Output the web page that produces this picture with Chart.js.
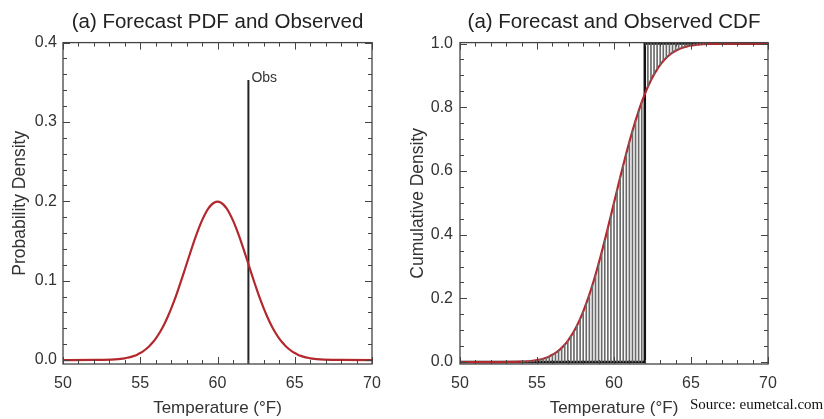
<!DOCTYPE html>
<html>
<head>
<meta charset="utf-8">
<script src="https://cdn.jsdelivr.net/npm/chart.js@4.4.1/dist/chart.umd.min.js"></script>
<style>
  body { margin: 0; background: #fff; width: 824px; height: 419px; overflow: hidden; position: relative; }
  canvas { position: absolute; top: 0; }
  #pdfChart { left: 0; }
  #cdfChart { left: 400px; }
  .source { position: absolute; left: 690px; top: 396px; font: 15px "Liberation Serif", "Times New Roman", serif; color: #111; white-space: nowrap; }
</style>
</head>
<body>
<canvas id="pdfChart" width="400" height="419"></canvas>
<canvas id="cdfChart" width="424" height="419"></canvas>
<div class="source">Source: eumetcal.com</div>
<script>
// temperature grid (°F)
const temps = [50, 52,
  54, 54.2, 54.4, 54.6, 54.8, 55, 55.2, 55.4, 55.6, 55.8,
  56, 56.2, 56.4, 56.6, 56.8, 57, 57.2, 57.4, 57.6, 57.8,
  58, 58.2, 58.4, 58.6, 58.8, 59, 59.2, 59.4, 59.6, 59.8,
  60, 60.2, 60.4, 60.6, 60.8, 61, 61.2, 61.4, 61.6, 61.8,
  62, 62.2, 62.4, 62.6, 62.8, 63, 63.2, 63.4, 63.6, 63.8,
  64, 64.2, 64.4, 64.6, 64.8, 65, 65.2, 65.4, 65.6, 65.8,
  66, 68, 70];

// forecast probability density
const pdfValues = [0, 0.0001,
  0.0022, 0.0030, 0.0040, 0.0052, 0.0068, 0.0088, 0.0112, 0.0142, 0.0177, 0.0220,
  0.0270, 0.0328, 0.0395, 0.0470, 0.0555, 0.0648, 0.0749, 0.0857, 0.0971, 0.1089,
  0.1210, 0.1330, 0.1448, 0.1561, 0.1666, 0.1760, 0.1841, 0.1907, 0.1955, 0.1985,
  0.1995, 0.1985, 0.1955, 0.1907, 0.1841, 0.1760, 0.1666, 0.1561, 0.1448, 0.1330,
  0.1210, 0.1089, 0.0971, 0.0857, 0.0749, 0.0648, 0.0555, 0.0470, 0.0395, 0.0328,
  0.0270, 0.0220, 0.0177, 0.0142, 0.0112, 0.0088, 0.0068, 0.0052, 0.0040, 0.0030,
  0.0022, 0.0001, 0];

// forecast cumulative density
const cdfValues = [0, 0,
  0.0013, 0.0019, 0.0026, 0.0035, 0.0047, 0.0062, 0.0082, 0.0107, 0.0139, 0.0179,
  0.0228, 0.0287, 0.0359, 0.0446, 0.0548, 0.0668, 0.0808, 0.0968, 0.1151, 0.1357,
  0.1587, 0.1841, 0.2119, 0.2420, 0.2743, 0.3085, 0.3446, 0.3821, 0.4207, 0.4602,
  0.5, 0.5398, 0.5793, 0.6179, 0.6554, 0.6915, 0.7257, 0.7580, 0.7881, 0.8159,
  0.8413, 0.8643, 0.8849, 0.9032, 0.9192, 0.9332, 0.9452, 0.9554, 0.9641, 0.9713,
  0.9772, 0.9821, 0.9861, 0.9893, 0.9918, 0.9938, 0.9953, 0.9965, 0.9974, 0.9981,
  0.9987, 1, 1];

// observation
const obsTemp = 62;
const obsTop = 0.353;
const obsLabel = 'Obs';

// tick labels
const xTicks = [50, 55, 60, 65, 70];
const pdfTicks = [0, 0.1, 0.2, 0.3, 0.4];
const cdfTicks = [0, 0.2, 0.4, 0.6, 0.8, 1.0];

const RED = '#b3282d';
const INK = '#333';
const FONT = '"Liberation Sans", Arial, sans-serif';

Chart.defaults.font.family = FONT;
Chart.defaults.color = INK;

// IDL style box with inward ticks on all four sides
const frameTicks = {
  id: 'frameTicks',
  afterDatasetsDraw(chart, args, o) {
    const {ctx, chartArea: a, scales: {x, y}} = chart;
    ctx.save();
    ctx.strokeStyle = '#444';
    ctx.lineWidth = 1.3;
    ctx.strokeRect(a.left, a.top, a.right - a.left, a.bottom - a.top);
    ctx.lineWidth = 1;
    ctx.beginPath();
    const nx = Math.round((x.max - x.min) / o.xMinor);
    for (let i = 0; i <= nx; i++) {
      const v = x.min + i * o.xMinor;
      const len = i % o.xEvery === 0 ? 7 : 4;
      const px = Math.round(x.getPixelForValue(v)) + 0.5;
      ctx.moveTo(px, a.bottom); ctx.lineTo(px, a.bottom - len);
      ctx.moveTo(px, a.top); ctx.lineTo(px, a.top + len);
    }
    const ny = Math.round((o.yTop - o.yBottom) / o.yMinor);
    for (let i = 0; i <= ny; i++) {
      const v = o.yBottom + i * o.yMinor;
      const len = i % o.yEvery === 0 ? 7 : 4;
      const py = Math.round(y.getPixelForValue(v)) + 0.5;
      ctx.moveTo(a.left, py); ctx.lineTo(a.left + len, py);
      ctx.moveTo(a.right, py); ctx.lineTo(a.right - len, py);
    }
    ctx.stroke();
    if (o.label) {
      ctx.fillStyle = INK;
      ctx.font = '14px ' + FONT;
      ctx.textAlign = 'left';
      ctx.textBaseline = 'alphabetic';
      ctx.fillText(o.label, x.getPixelForValue(obsTemp) + 3, y.getPixelForValue(obsTop) + 2);
    }
    ctx.restore();
  }
};

function axes(yMin, yMax, yTicks, yTitle, yWidth, yPad, yTitlePad) {
  return {
    x: {
      type: 'linear', min: 50, max: 70, offset: false,
      afterFit: s => { s.height = 55; },
      afterBuildTicks: s => { s.ticks = xTicks.map(v => ({value: v})); },
      grid: {display: false, drawTicks: false},
      border: {display: false},
      ticks: {font: {size: 16}, padding: 10, color: INK},
      title: {display: true, text: 'Temperature (°F)', font: {size: 17}, color: INK, padding: {top: 4, bottom: 0}}
    },
    y: {
      type: 'linear', min: yMin, max: yMax,
      afterFit: s => { s.width = yWidth; },
      afterBuildTicks: s => { s.ticks = yTicks.map(v => ({value: v})); },
      grid: {display: false, drawTicks: false},
      border: {display: false},
      ticks: {font: {size: 16}, padding: yPad, color: INK, callback: v => v.toFixed(1)},
      title: {display: true, text: yTitle, font: {size: 17.5}, color: INK, padding: {top: yTitlePad, bottom: 0}}
    }
  };
}

function titleOpts(text) {
  return {
    display: true, text: text, fullSize: false, color: '#222',
    font: {size: 20.5, weight: 'normal'}, padding: {top: 10, bottom: 8}
  };
}

const pts = vals => temps.map((t, i) => ({x: t, y: vals[i]}));

new Chart(document.getElementById('pdfChart'), {
  type: 'line',
  data: {
    datasets: [
      {
        label: 'Forecast PDF', data: pts(pdfValues),
        borderColor: RED, borderWidth: 2.2, pointRadius: 0, cubicInterpolationMode: 'monotone'
      },
      {
        label: 'Observed', data: [{x: obsTemp, y: -0.005}, {x: obsTemp, y: obsTop}],
        borderColor: '#222', borderWidth: 2, pointRadius: 0
      }
    ]
  },
  options: {
    responsive: false, devicePixelRatio: 1, animation: false,
    layout: {padding: {left: 0, right: 28, top: 0, bottom: 0}},
    plugins: {
      legend: {display: false}, tooltip: {enabled: false},
      title: titleOpts('(a) Forecast PDF and Observed'),
      frameTicks: {xMinor: 1, xEvery: 5, yBottom: 0, yTop: 0.4, yMinor: 0.02, yEvery: 5, label: obsLabel}
    },
    scales: axes(-0.005, 0.4, pdfTicks, 'Probability Density', 63, 6, 10)
  },
  plugins: [frameTicks]
});

// hatching between the forecast CDF and the observed step
const hatch = temps
  .map((t, i) => ({t, c: cdfValues[i]}))
  .filter(p => p.t >= 54 && p.t <= 66 && p.t !== obsTemp)
  .map(p => ({x: p.t, y: p.t < obsTemp ? [0, p.c] : [p.c, 1]}));

new Chart(document.getElementById('cdfChart'), {
  type: 'line',
  data: {
    datasets: [
      {
        type: 'bar', label: 'Difference', data: hatch,
        backgroundColor: '#6a6a6a', borderWidth: 0, barThickness: 1
      },
      {
        label: 'Forecast CDF', data: pts(cdfValues),
        borderColor: RED, borderWidth: 2.2, pointRadius: 0, cubicInterpolationMode: 'monotone'
      },
      {
        label: 'Observed CDF',
        data: [{x: 50, y: 0}, {x: obsTemp, y: 0}, {x: obsTemp, y: 1}, {x: 70, y: 1}],
        borderColor: '#111', borderWidth: 2.5, pointRadius: 0
      }
    ]
  },
  options: {
    responsive: false, devicePixelRatio: 1, animation: false,
    layout: {padding: {left: 0, right: 56, top: 0, bottom: 0}},
    plugins: {
      legend: {display: false}, tooltip: {enabled: false},
      title: titleOpts('(a) Forecast and Observed CDF'),
      frameTicks: {xMinor: 1, xEvery: 5, yBottom: 0, yTop: 1, yMinor: 0.05, yEvery: 4}
    },
    scales: axes(-0.006, 1.003, cdfTicks, 'Cumulative Density', 60, 7, 8)
  },
  plugins: [frameTicks]
});
</script>
</body>
</html>
